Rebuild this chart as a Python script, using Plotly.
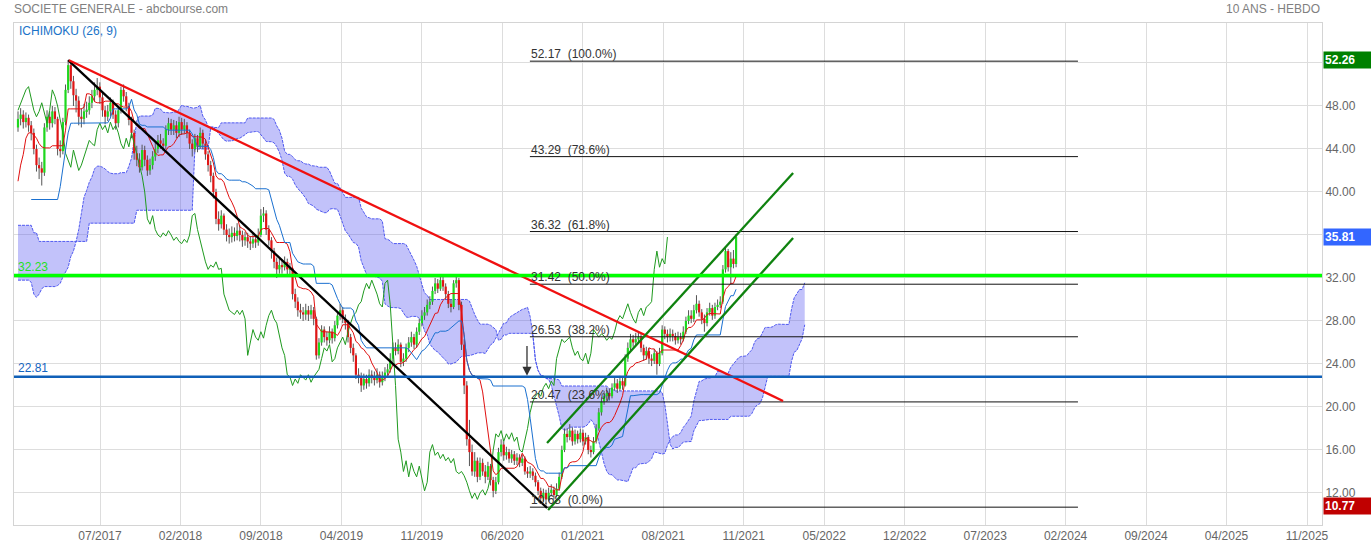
import plotly.graph_objects as go
import numpy as np

# ---------------- data ----------------
title_left = "SOCIETE GENERALE - abcbourse.com"
title_right = "10 ANS - HEBDO"
indicator_label = "ICHIMOKU (26, 9)"

x_tick_labels = ["07/2017", "02/2018", "09/2018", "04/2019", "11/2019", "06/2020",
                 "01/2021", "08/2021", "11/2021", "05/2022", "12/2022", "07/2023",
                 "02/2024", "09/2024", "04/2025", "11/2025"]
y_tick_values = [12, 16, 20, 24, 28, 32, 36, 40, 44, 48, 52]
y_tick_hidden = [52]   # label hidden behind the high-price badge in the original

closes = [
    46.8, 47.2, 46.5, 46.9, 46.2, 45.5, 44.0, 42.5, 42.2, 41.8,
    46.0, 47.0, 46.4, 47.5, 46.8, 44.0, 43.8, 46.5, 49.5, 51.8,
    50.3, 49.0, 48.5, 47.0, 46.8, 47.5, 47.6, 48.3, 48.9, 49.5,
    49.8, 48.8, 47.6, 47.0, 47.5, 48.3, 47.2, 46.4, 47.6, 49.5,
    48.9, 48.0, 46.7, 45.5, 43.6, 43.0, 42.3, 43.9, 43.0, 42.0,
    42.5, 43.3, 44.0, 44.8, 44.5, 44.3, 45.8, 46.4, 45.8, 46.2,
    45.5, 46.5, 45.8, 46.2, 45.5, 44.5, 44.0, 45.0, 44.2, 45.5,
    44.5, 43.5, 42.5, 41.5, 40.0, 37.5, 37.0, 37.8, 36.5, 36.0,
    35.8, 36.2, 35.9, 36.4, 36.0, 35.5, 35.8, 35.4, 35.2, 35.6,
    35.3, 36.0, 37.8, 38.0, 36.5, 35.5, 34.5, 33.5, 32.8, 33.2,
    33.0, 33.5, 32.8, 32.9, 30.5, 29.8, 29.0, 28.8, 28.6, 29.0,
    28.6, 29.0, 28.2, 24.8, 26.0, 27.2, 26.5, 26.2, 27.0, 26.4,
    27.6, 28.5, 29.0, 28.2, 27.8, 26.5, 25.5, 24.8, 23.0, 22.8,
    22.0, 22.6, 22.2, 23.0, 22.7, 22.5, 23.0, 22.3, 22.8, 23.2,
    23.5, 24.5, 25.5, 25.2, 25.8, 24.2, 24.5, 25.5, 26.0, 26.5,
    25.8, 27.0, 27.8, 28.5, 28.8, 29.5, 29.8, 30.8, 31.5, 31.0,
    31.8, 31.2, 30.5, 29.6, 29.3, 31.5, 31.8, 29.5, 25.8, 22.0,
    17.0, 15.8, 14.0, 15.0, 13.5, 14.8, 14.0, 13.5, 14.5, 13.2,
    12.2, 13.0, 15.8, 16.5, 15.5, 15.8, 15.2, 15.6, 15.0, 15.3,
    14.8, 15.2, 14.0, 13.8, 14.0, 13.6, 13.0, 12.2, 11.5, 12.0,
    11.4, 12.0, 12.3, 11.8, 12.4, 13.5, 16.0, 17.5, 17.2, 17.8,
    16.8, 17.5, 17.0, 17.6, 16.8, 17.2, 16.0, 15.8, 16.8, 18.0,
    19.5, 20.5, 21.0, 21.3, 21.0, 21.8, 22.2, 21.7, 22.4, 22.0,
    24.5, 25.5, 26.3, 26.0, 26.3, 26.5, 25.5, 24.8, 25.2, 24.5,
    24.3, 25.0, 24.0, 25.0, 27.2, 26.8, 26.5, 26.8, 26.6, 26.2,
    26.5, 26.3, 27.0, 28.0, 28.5, 28.2, 29.0, 29.6, 28.8, 28.2,
    27.8, 28.8, 29.2, 28.5, 29.3, 29.5, 29.8, 32.8, 34.5, 33.0,
    33.8, 33.3, 35.81]

opens = [
    46.0, 46.8, 47.2, 46.5, 46.9, 46.2, 45.5, 44.0, 42.5, 42.2,
    41.8, 46.0, 47.0, 46.4, 47.5, 46.8, 44.0, 43.8, 46.5, 49.5,
    51.8, 50.3, 49.0, 48.5, 47.0, 46.8, 47.5, 47.6, 48.3, 48.9,
    49.5, 49.8, 48.8, 47.6, 47.0, 47.5, 48.3, 47.2, 46.4, 47.6,
    49.5, 48.9, 48.0, 46.7, 45.5, 43.6, 43.0, 42.3, 43.9, 43.0,
    42.0, 42.5, 43.3, 44.0, 44.8, 44.5, 44.3, 45.8, 46.4, 45.8,
    46.2, 45.5, 46.5, 45.8, 46.2, 45.5, 44.5, 44.0, 45.0, 44.2,
    45.5, 44.5, 43.5, 42.5, 41.5, 40.0, 37.5, 37.0, 37.8, 36.5,
    36.0, 35.8, 36.2, 35.9, 36.4, 36.0, 35.5, 35.8, 35.4, 35.2,
    35.6, 35.3, 36.0, 37.8, 38.0, 36.5, 35.5, 34.5, 33.5, 32.8,
    33.2, 33.0, 33.5, 32.8, 32.9, 30.5, 29.8, 29.0, 28.8, 28.6,
    29.0, 28.6, 29.0, 28.2, 24.8, 26.0, 27.2, 26.5, 26.2, 27.0,
    26.4, 27.6, 28.5, 29.0, 28.2, 27.8, 26.5, 25.5, 24.8, 23.0,
    22.8, 22.0, 22.6, 22.2, 23.0, 22.7, 22.5, 23.0, 22.3, 22.8,
    23.2, 23.5, 24.5, 25.5, 25.2, 25.8, 24.2, 24.5, 25.5, 26.0,
    26.5, 25.8, 27.0, 27.8, 28.5, 28.8, 29.5, 29.8, 30.8, 31.5,
    31.0, 31.8, 31.2, 30.5, 29.6, 29.3, 31.5, 31.8, 29.5, 25.8,
    22.0, 17.0, 15.8, 14.0, 15.0, 13.5, 14.8, 14.0, 13.5, 14.5,
    13.2, 12.2, 13.0, 15.8, 16.5, 15.5, 15.8, 15.2, 15.6, 15.0,
    15.3, 14.8, 15.2, 14.0, 13.8, 14.0, 13.6, 13.0, 12.2, 11.5,
    12.0, 11.4, 12.0, 12.3, 11.8, 12.4, 13.5, 16.0, 17.5, 17.2,
    17.8, 16.8, 17.5, 17.0, 17.6, 16.8, 17.2, 16.0, 15.8, 16.8,
    18.0, 19.5, 20.5, 21.0, 21.3, 21.0, 21.8, 22.2, 21.7, 22.4,
    22.0, 24.5, 25.5, 26.3, 26.0, 26.3, 26.5, 25.5, 24.8, 25.2,
    24.5, 24.3, 25.0, 24.0, 25.0, 27.2, 26.8, 26.5, 26.8, 26.6,
    26.2, 26.5, 26.3, 27.0, 28.0, 28.5, 28.2, 29.0, 29.6, 28.8,
    28.2, 27.8, 28.8, 29.2, 28.5, 29.3, 29.5, 29.8, 32.8, 34.5,
    33.0, 33.8, 33.3]

highs = [
    47.5, 47.8, 47.6, 47.4, 47.2, 46.6, 45.9, 44.4, 43.2, 42.8,
    46.4, 47.6, 47.5, 48.0, 47.9, 47.0, 44.8, 46.9, 50.0, 52.26,
    52.0, 50.8, 49.6, 48.9, 47.8, 48.2, 48.4, 48.9, 49.5, 50.2,
    50.6, 50.2, 49.2, 48.0, 48.1, 48.8, 48.6, 47.6, 48.0, 49.8,
    50.0, 49.3, 48.3, 47.0, 45.8, 44.3, 43.6, 44.4, 44.3, 43.4,
    43.1, 43.8, 44.6, 45.3, 45.4, 45.0, 46.2, 46.9, 46.8, 46.7,
    46.6, 47.0, 46.9, 46.8, 46.5, 45.8, 44.9, 45.4, 45.3, 46.0,
    45.8, 44.9, 43.8, 42.9, 41.8, 40.3, 38.2, 38.3, 38.0, 37.0,
    36.6, 36.8, 36.7, 37.1, 36.9, 36.4, 36.3, 36.2, 35.9, 36.1,
    36.0, 36.6, 38.4, 38.6, 38.3, 36.9, 35.8, 34.8, 33.9, 33.8,
    33.7, 34.0, 33.8, 33.4, 33.0, 31.0, 30.2, 29.6, 29.3, 29.6,
    29.4, 29.5, 29.3, 28.4, 26.4, 27.6, 27.5, 27.0, 27.5, 27.3,
    28.0, 28.9, 29.6, 29.3, 28.6, 28.1, 26.8, 25.9, 25.0, 23.6,
    23.2, 23.1, 23.0, 23.5, 23.4, 23.3, 23.6, 23.3, 23.3, 23.7,
    24.0, 25.0, 26.0, 26.0, 26.3, 26.0, 25.0, 25.9, 26.5, 27.0,
    26.8, 27.4, 28.2, 29.0, 29.3, 30.0, 30.3, 31.2, 32.0, 31.9,
    32.3, 32.1, 31.5, 30.8, 30.0, 31.8, 32.3, 32.0, 29.8, 26.3,
    22.4, 18.8, 16.5, 15.8, 15.3, 15.3, 15.2, 14.6, 14.9, 14.7,
    13.5, 13.5, 16.2, 17.0, 16.8, 16.3, 16.1, 16.0, 15.9, 15.7,
    15.6, 15.6, 15.4, 14.4, 14.5, 14.3, 13.9, 13.2, 12.5, 12.4,
    12.3, 12.5, 12.8, 12.6, 12.9, 13.9, 16.4, 18.0, 18.0, 18.4,
    18.1, 17.9, 17.8, 18.0, 17.9, 17.6, 17.4, 16.4, 17.2, 18.4,
    19.9, 20.9, 21.5, 21.8, 21.7, 22.2, 22.8, 22.6, 22.9, 22.8,
    24.9, 26.0, 26.8, 26.7, 26.9, 27.0, 26.8, 25.8, 25.6, 25.5,
    24.9, 25.4, 25.2, 25.5, 27.6, 27.5, 27.2, 27.3, 27.2, 26.9,
    27.0, 26.9, 27.5, 28.4, 29.0, 29.0, 29.5, 30.4, 29.9, 29.1,
    28.6, 29.2, 29.7, 29.5, 29.7, 30.0, 30.3, 33.2, 34.9, 34.7,
    34.4, 34.6, 36.1]

lows = [
    45.6, 46.2, 45.9, 46.0, 45.6, 44.8, 43.5, 41.9, 41.2, 40.6,
    41.5, 45.6, 45.8, 46.0, 46.3, 43.4, 43.2, 43.5, 46.2, 49.2,
    49.6, 48.0, 47.4, 46.2, 46.0, 46.3, 46.9, 47.2, 47.8, 48.4,
    49.0, 48.2, 47.0, 46.3, 46.6, 47.0, 46.8, 45.8, 46.0, 47.3,
    48.4, 47.5, 46.2, 45.0, 43.0, 42.4, 41.8, 42.0, 42.4, 41.5,
    41.6, 42.1, 42.9, 43.6, 44.0, 43.8, 44.0, 45.3, 45.3, 45.3,
    45.0, 45.1, 45.3, 45.4, 45.0, 44.0, 43.3, 43.7, 43.7, 44.0,
    44.0, 43.0, 41.9, 40.9, 39.4, 37.0, 36.4, 36.6, 36.0, 35.4,
    35.2, 35.3, 35.4, 35.5, 35.4, 34.9, 35.0, 34.8, 34.6, 34.8,
    34.8, 35.0, 35.8, 37.2, 36.0, 35.0, 33.8, 32.9, 32.0, 32.4,
    32.4, 32.7, 32.3, 32.1, 30.0, 29.2, 28.4, 28.2, 28.0, 28.1,
    28.0, 28.2, 27.6, 24.4, 24.5, 25.7, 26.0, 25.7, 25.9, 25.9,
    26.1, 27.3, 28.1, 27.8, 27.2, 26.0, 25.0, 24.2, 22.6, 22.2,
    21.4, 21.6, 21.7, 21.9, 22.2, 22.0, 22.2, 21.8, 22.0, 22.4,
    22.9, 23.2, 24.2, 24.8, 24.9, 23.7, 23.8, 24.2, 25.1, 25.6,
    25.4, 25.5, 26.7, 27.5, 28.1, 28.5, 29.1, 29.5, 30.5, 30.6,
    30.8, 30.8, 30.0, 29.2, 28.8, 29.1, 31.1, 29.0, 25.3, 21.2,
    16.4, 14.5, 13.6, 13.5, 13.0, 13.2, 13.6, 12.9, 13.2, 12.7,
    11.6, 11.9, 12.8, 15.4, 15.0, 15.1, 14.8, 14.8, 14.6, 14.6,
    14.4, 14.5, 13.7, 13.4, 13.4, 13.2, 12.6, 11.8, 11.1, 11.2,
    10.68, 11.2, 11.7, 11.4, 11.6, 12.2, 13.3, 15.8, 16.7, 16.9,
    16.4, 16.5, 16.6, 16.7, 16.4, 16.5, 15.6, 15.3, 15.6, 16.6,
    17.8, 19.2, 20.2, 20.6, 20.6, 20.8, 21.5, 21.3, 21.5, 21.6,
    21.9, 24.2, 25.2, 25.6, 25.7, 25.9, 25.1, 24.3, 24.4, 24.0,
    23.8, 24.0, 23.0, 23.8, 24.8, 26.3, 26.0, 26.1, 26.1, 25.8,
    25.9, 25.8, 26.1, 26.8, 27.7, 27.8, 27.9, 28.7, 28.4, 27.7,
    27.0, 27.5, 28.5, 28.1, 28.2, 29.0, 29.2, 29.6, 32.5, 32.6,
    31.4, 32.9, 33.0]

# Ichimoku values before enough history exists
tenkan_warmup = [41.0, 42.5, 43.5, 45.0, 45.5, 45.5, 45.3, 45.0]
kijun_warmup = [39.3] * 16 + [40.5, 42.0, 43.9, 45.5] + [46.4] * 5
span_a_warmup = [31.8, 31.8, 31.8, 31.8, 31.8, 31.6, 30.5, 30.2, 30.5, 31.0,
                 31.2, 31.2, 31.2, 31.2, 31.2, 31.3, 31.5, 32.1, 32.5, 33.0,
                 34.0, 34.5, 35.4, 36.5, 38.0, 39.5]
span_b_warmup = ([36.9] * 6 + [36.2] * 2 + [35.4] * 19 + [37.1] * 18 +
                 [38.3] * 22 + [44.0] * 6 + [46.0] * 4)
kijun_first_visible = 5

# Fibonacci retracement
fib_levels = [52.17, 43.29, 36.32, 31.42, 26.53, 20.47, 10.68]
fib_pcts = ["100.0%", "78.6%", "61.8%", "50.0%", "38.2%", "23.6%", "0.0%"]
fib_start_week, fib_end_week = 193.9, 401.5

# drawn trend lines (week index, price)
black_line = ([19.0, 200.4], [52.26, 10.6])
red_line = ([19.3, 289.8], [52.26, 20.56])
channel_upper = ([200.4, 293.6], [16.65, 41.77])
channel_lower = ([200.8, 293.6], [10.42, 35.72])
support_level = 32.23
blue_level = 22.81
arrow_week, arrow_from, arrow_to = 192.8, 25.8, 22.9

badge_high, badge_last, badge_low = 52.26, 35.81, 10.77

# ---------------- computations ----------------
n = len(closes)
H = np.array(highs)
L = np.array(lows)
weeks = np.arange(n)


def mid(i, p):
    return (H[i - p + 1:i + 1].max() + L[i - p + 1:i + 1].min()) / 2


tenkan = [tenkan_warmup[i] if i < len(tenkan_warmup) else mid(i, 9) for i in range(n)]
kijun = [kijun_warmup[i] if i < len(kijun_warmup) else mid(i, 26) for i in range(n)]
m = n + 26
span_a = [span_a_warmup[j] if j < 26 else (tenkan[j - 26] + kijun[j - 26]) / 2 for j in range(m)]
span_b = [span_b_warmup[j] if j < len(span_b_warmup) else mid(j - 26, 52) for j in range(m)]
cloud_x = np.arange(m)
chikou_x = np.arange(n - 26)
chikou = closes[26:]

fig = go.Figure()

# cloud
edge = dict(color="rgb(80,90,240)", width=1, dash="3px,1px")
fig.add_trace(go.Scatter(x=cloud_x, y=span_b, mode="lines", line=edge, hoverinfo="skip"))
fig.add_trace(go.Scatter(x=cloud_x, y=span_a, mode="lines", line=edge, fill="tonexty",
                         fillcolor="rgba(85,85,240,0.36)", hoverinfo="skip"))

# candles: wicks
wx, wy = [], []
for i in range(n):
    wx += [i, i, None]
    wy += [lows[i], highs[i], None]
fig.add_trace(go.Scatter(x=wx, y=wy, mode="lines", line=dict(color="#555555", width=1),
                         hoverinfo="skip"))
# bodies
for up, col in ((True, "#1ed81e"), (False, "#e01515")):
    bx, by = [], []
    for i in range(n):
        o, c = opens[i], closes[i]
        if (c >= o) == up:
            lo, hi = min(o, c), max(o, c)
            if hi - lo < 0.12:
                hi += 0.06
                lo -= 0.06
            bx += [i, i, None]
            by += [lo, hi, None]
    fig.add_trace(go.Scatter(x=bx, y=by, mode="lines", line=dict(color=col, width=2.2),
                             hoverinfo="skip"))

# ichimoku lines
fig.add_trace(go.Scatter(x=chikou_x, y=chikou, mode="lines",
                         line=dict(color="#1f9a1f", width=1), hoverinfo="skip"))
fig.add_trace(go.Scatter(x=weeks, y=tenkan, mode="lines",
                         line=dict(color="#e01010", width=1), hoverinfo="skip"))
fig.add_trace(go.Scatter(x=weeks[kijun_first_visible:], y=kijun[kijun_first_visible:], mode="lines",
                         line=dict(color="#1a70d0", width=1), hoverinfo="skip"))

# horizontal levels
fig.add_shape(type="line", xref="paper", x0=0, x1=1, yref="y", y0=support_level, y1=support_level,
              line=dict(color="#00ff00", width=3.5))
fig.add_shape(type="line", xref="paper", x0=0, x1=1, yref="y", y0=blue_level, y1=blue_level,
              line=dict(color="#1060b8", width=2.5))

# fibonacci
for lvl, pct in zip(fib_levels, fib_pcts):
    fig.add_trace(go.Scatter(x=[fib_start_week, fib_end_week], y=[lvl, lvl], mode="lines",
                             line=dict(color="#111111", width=1), hoverinfo="skip"))
    fig.add_annotation(x=fib_start_week, y=lvl, xref="x", yref="y", xanchor="left", yanchor="bottom",
                       text=f"{lvl:.2f}  ({pct})", showarrow=False, yshift=-2, xshift=-1,
                       font=dict(family="Liberation Sans, Arial", size=12, color="#333333"))

# trend lines
for (lx, ly), col in ((black_line, "#000000"), (red_line, "#f01010"),
                      (channel_upper, "#0f820f"), (channel_lower, "#0f820f")):
    fig.add_trace(go.Scatter(x=lx, y=ly, mode="lines", line=dict(color=col, width=2.3),
                             hoverinfo="skip"))

# arrow
fig.add_annotation(x=arrow_week, y=arrow_to, ax=arrow_week, ay=arrow_from, xref="x", yref="y",
                   axref="x", ayref="y", text="", showarrow=True, arrowhead=2, arrowsize=1.4,
                   arrowwidth=1.3, arrowcolor="#333333")

# level labels
fig.add_annotation(x=0, xref="paper", y=support_level, yref="y", xanchor="left", yanchor="bottom",
                   text=f"{support_level:.2f}", showarrow=False, xshift=2, yshift=0,
                   font=dict(family="Liberation Sans, Arial", size=12, color="#22e022"))
fig.add_annotation(x=0, xref="paper", y=blue_level, yref="y", xanchor="left", yanchor="bottom",
                   text=f"{blue_level:.2f}", showarrow=False, xshift=2, yshift=0,
                   font=dict(family="Liberation Sans, Arial", size=12, color="#1565c0"))

# titles
fig.add_annotation(x=0, xref="paper", y=1, yref="paper", xanchor="left", yanchor="middle",
                   text=title_left, showarrow=False, yshift=14, xshift=-2,
                   font=dict(family="Liberation Sans, Arial", size=12, color="#808080"))
fig.add_annotation(x=1, xref="paper", y=1, yref="paper", xanchor="right", yanchor="middle",
                   text=title_right, showarrow=False, yshift=14,
                   font=dict(family="Liberation Sans, Arial", size=12, color="#808080"))
fig.add_annotation(x=0, xref="paper", y=1, yref="paper", xanchor="left", yanchor="middle",
                   text=indicator_label, showarrow=False, yshift=-8, xshift=3,
                   font=dict(family="Liberation Sans, Arial", size=12, color="#1a73c8"))

# price badges
for val, bg in ((badge_high, "#008000"), (badge_last, "#3366ff"), (badge_low, "#c00000")):
    fig.add_annotation(x=1, xref="paper", y=val, yref="y", xanchor="left", yanchor="middle",
                       text=f"<b>{val:.2f}</b>", showarrow=False, xshift=1, bgcolor=bg,
                       width=45, height=14, align="left", borderpad=1,
                       font=dict(family="Liberation Sans, Arial", size=12, color="white"))

tick_first_week, tick_step_weeks = 31.06, 30.48
tickvals = [tick_first_week + k * tick_step_weeks for k in range(len(x_tick_labels))]
y_ticktext = ["" if v in y_tick_hidden else f"{v:.2f}" for v in y_tick_values]

fig.update_layout(
    width=1371, height=550, autosize=False,
    margin=dict(l=14, r=49, t=23, b=25, autoexpand=False),
    paper_bgcolor="white", plot_bgcolor="white",
    showlegend=False,
    font=dict(family="Liberation Sans, Arial", size=12, color="#666666"),
    xaxis=dict(range=[-1.515, 493.94], tickvals=tickvals, ticktext=x_tick_labels,
               showgrid=True, gridcolor="#dddddd", gridwidth=1, zeroline=False,
               showline=True, linecolor="#d4d4d4", mirror=True, ticks="", automargin=False,
               tickfont=dict(size=12, color="#666666")),
    yaxis=dict(range=[9.02, 55.72], side="right", tickvals=y_tick_values,
               ticktext=y_ticktext,
               showgrid=True, gridcolor="#dddddd", gridwidth=1, zeroline=False,
               showline=True, linecolor="#d4d4d4", mirror=True, ticks="", automargin=False,
               tickfont=dict(size=12, color="#666666")),
)

# remove the default page margin so the figure sits at the window's top-left corner
fig.write_html("out.html",
               config={"displayModeBar": False, "responsive": False},
               post_script="document.body.style.margin='0';")
